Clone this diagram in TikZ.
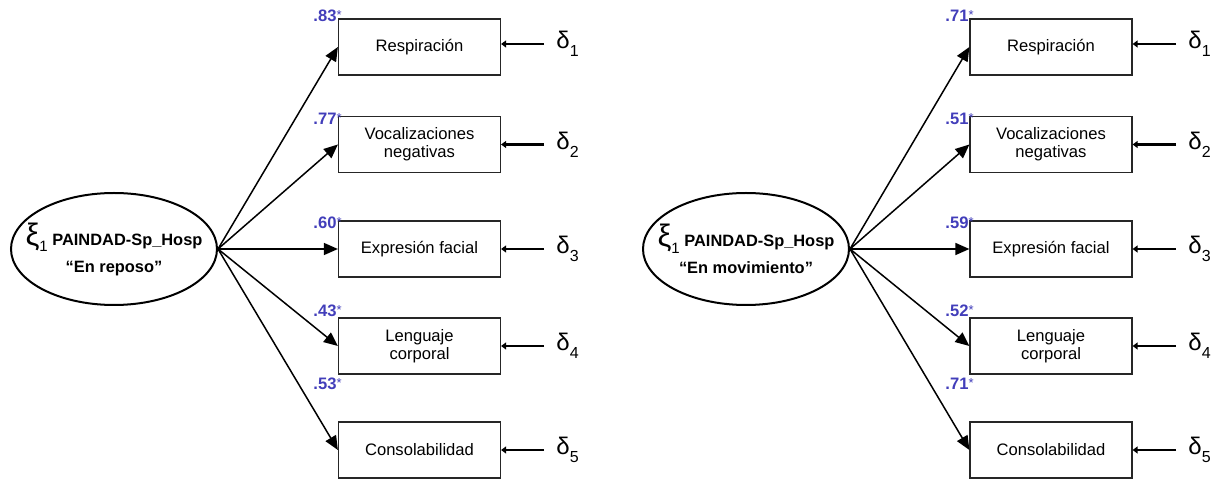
\documentclass[tikz,border=0pt]{standalone}
\usepackage{fontspec}
\setmainfont{Liberation Sans}
\usetikzlibrary{arrows.meta,shapes.geometric}

\definecolor{coefblue}{RGB}{66,62,186}

\tikzset{
  item/.style={draw=black!85, line width=0.6pt, minimum width=81pt, minimum height=28pt,
    inner sep=0pt, align=center, font=\fontsize{8.3}{9.2}\selectfont},
  latent/.style={ellipse, draw, line width=1pt, minimum width=103pt, minimum height=56pt,
    inner xsep=-14pt, inner ysep=-12pt, align=center, font=\fontsize{8.2}{13.5}\selectfont\bfseries},
  load/.style={line width=0.75pt, -{Triangle[length=7pt,width=6pt]}},
  err/.style={line width=1.15pt, -{Triangle[length=2.5pt,width=3.5pt]}, shorten <=6pt},
  coef/.style={anchor=east, inner sep=0pt, text=coefblue, font=\fontsize{8.3}{9}\selectfont},
  dlt/.style={anchor=west, inner sep=0pt, font=\fontsize{12}{12}\selectfont},
}
\newcommand{\xione}{{\mdseries\fontsize{15.5}{13}\selectfont ξ}{\mdseries\fontsize{7.5}{8}\selectfont\raisebox{-3.3pt}{1}}}
\newcommand{\delt}[1]{δ\raisebox{-4pt}{\fontsize{8}{8}\selectfont #1}}
\newcommand{\coefval}[1]{\textbf{#1}\raisebox{1.2pt}{\fontsize{6.5}{6.5}\selectfont *}}

\begin{document}
\begin{tikzpicture}[x=0.5pt, y=-0.5pt]
            \useasboundingbox (0,0) rectangle (1217,480);

            % en reposo
            \node[latent] (lat) at (114,249) {\xione\ PAINDAD-Sp\_Hosp\\“En reposo”};

            \node[item] (r1) at (419.5,47) {Respiración};
            \node[item] (r2) at (419.5,144.5) {Vocalizaciones\\negativas};
            \node[item] (r3) at (419.5,249) {Expresión facial};
            \node[item] (r4) at (419.5,346) {Lenguaje\\corporal};
            \node[item] (r5) at (419.5,450) {Consolabilidad};

            \node[dlt] (d1) at (556,44) {\delt{1}};
            \node[dlt] (d2) at (556,144.5) {\delt{2}};
            \node[dlt] (d3) at (556,249) {\delt{3}};
            \node[dlt] (d4) at (556,346) {\delt{4}};
            \node[dlt] (d5) at (556,450) {\delt{5}};

            \node[coef] (c1) at (342,16) {\coefval{.83}};
            \node[coef] (c2) at (342,119) {\coefval{.77}};
            \node[coef] (c3) at (342,223) {\coefval{.60}};
            \node[coef] (c4) at (342,311) {\coefval{.43}};
            \node[coef] (c5) at (342,384) {\coefval{.53}};

            \draw[load] (lat.east) -- (r1.west);
            \draw[load] (lat.east) -- (r2.west);
            \draw[load] (lat.east) -- (r3.west);
            \draw[load] (lat.east) -- (r4.west);
            \draw[load] (lat.east) -- (r5.west);

            \draw[err] (d1.west) -- (d1.west -| r1.east);
            \draw[err] (d2.west) -- (r2.east);
            \draw[err] (d3.west) -- (r3.east);
            \draw[err] (d4.west) -- (r4.east);
            \draw[err] (d5.west) -- (r5.east);

            % en movimiento
            \node[latent] (latm) at (746,249) {\xione\ PAINDAD-Sp\_Hosp\\“En movimiento”};

            \node[item] (m1) at (1051,47) {Respiración};
            \node[item] (m2) at (1051,144.5) {Vocalizaciones\\negativas};
            \node[item] (m3) at (1051,249) {Expresión facial};
            \node[item] (m4) at (1051,346) {Lenguaje\\corporal};
            \node[item] (m5) at (1051,450) {Consolabilidad};

            \node[dlt] (e1) at (1188,44) {\delt{1}};
            \node[dlt] (e2) at (1188,144.5) {\delt{2}};
            \node[dlt] (e3) at (1188,249) {\delt{3}};
            \node[dlt] (e4) at (1188,346) {\delt{4}};
            \node[dlt] (e5) at (1188,450) {\delt{5}};

            \node[coef] (k1) at (974,16) {\coefval{.71}};
            \node[coef] (k2) at (974,119) {\coefval{.51}};
            \node[coef] (k3) at (974,223) {\coefval{.59}};
            \node[coef] (k4) at (974,311) {\coefval{.52}};
            \node[coef] (k5) at (974,384) {\coefval{.71}};

            \draw[load] (latm.east) -- (m1.west);
            \draw[load] (latm.east) -- (m2.west);
            \draw[load] (latm.east) -- (m3.west);
            \draw[load] (latm.east) -- (m4.west);
            \draw[load] (latm.east) -- (m5.west);

            \draw[err] (e1.west) -- (e1.west -| m1.east);
            \draw[err] (e2.west) -- (m2.east);
            \draw[err] (e3.west) -- (m3.east);
            \draw[err] (e4.west) -- (m4.east);
            \draw[err] (e5.west) -- (m5.east);
\end{tikzpicture}
\end{document}
